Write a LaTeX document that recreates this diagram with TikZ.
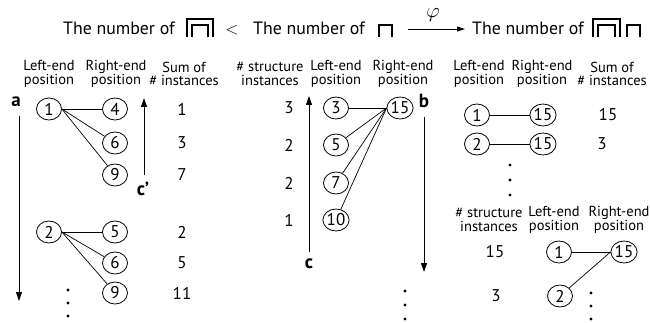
\documentclass[tikz,border=0pt]{standalone}
\usepackage{fontspec}
\setmainfont{PT Sans}
\usetikzlibrary{arrows.meta,shapes.geometric}
\begin{document}
\begin{tikzpicture}[x=1pt,y=-1pt,
  hdr/.style={align=center, inner sep=0pt, font=\fontsize{14.5}{13.5}\selectfont},
  num/.style={ellipse, draw, line width=0.8pt, minimum width=25pt, minimum height=22pt, inner sep=0pt, font=\fontsize{17}{17}\selectfont},
  val/.style={inner sep=0pt, font=\fontsize{17}{17}\selectfont},
  lbl/.style={inner sep=0pt, font=\fontsize{19}{19}\selectfont\bfseries},
  edge/.style={line width=0.7pt},
  dir/.style={line width=0.9pt, -{Triangle[length=9pt,width=6pt]}},
  ttl/.style={inner sep=0pt, font=\fontsize{17.8}{17.8}\selectfont},
  sym/.style={line width=1.4pt}
]
\useasboundingbox (0,0) rectangle (650,323);

% ---------- title ----------
\node[ttl, anchor=base east] (t1) at (175,35) {The number of};
\draw[sym] (187,37) -- (187,19) -- (213,19) -- (213,37);
\draw[sym] (192,37) -- (192,25) -- (208,25) -- (208,37);
\node[ttl, anchor=base] (lt) at (232,35) {$<$};
\node[ttl, anchor=base west] (t2) at (253,35) {The number of};
\draw[sym] (379,37) -- (379,25) -- (392,25) -- (392,37);
\coordinate (phs) at (408,29);
\coordinate (phe) at (465,29);
\draw[line width=0.9pt, -{Triangle[length=8pt,width=5pt]}] (phs) -- (phe);
\node[inner sep=0pt, font=\fontsize{21}{21}\selectfont] (phi) at (433,15) {$\varphi$};
\node[ttl, anchor=base west] (t3) at (472,35) {The number of};
\draw[sym] (593,37) -- (593,19) -- (620,19) -- (620,37);
\draw[sym] (598,37) -- (598,25) -- (615,25) -- (615,37);
\draw[sym] (627,37) -- (627,25) -- (640,25) -- (640,37);

% ---------- left panel ----------
\node[hdr] (h1) at (49,74) {Left-end\\position};
\node[hdr] (h2) at (116,74) {Right-end\\position};
\node[hdr] (h3) at (184,74) {Sum of\\\# instances};

\node[lbl] (la) at (16,102) {a};
\coordinate (as) at (19,116);
\coordinate (ae) at (19,301);
\draw[dir] (as) -- (ae);

\node[num] (n1) at (49,109) {1};
\node[num] (n4) at (115,109) {4};
\node[num] (n6a) at (115,143) {6};
\node[num] (n9a) at (115,175) {9};
\draw[edge] (n1.east) -- (n4.west);
\draw[edge] (n1.east) -- (n6a);
\draw[edge] (n1.east) -- (n9a);
\node[val] (v1) at (182,109) {1};
\node[val] (v3) at (182,143) {3};
\node[val] (v7) at (182,175) {7};

\coordinate (cps) at (144,175);
\coordinate (cpe) at (144,98);
\draw[dir] (cps) -- (cpe);
\node[lbl] (lcp) at (143,189) {c’};

\node[num] (n2) at (49,232) {2};
\node[num] (n5) at (115,232) {5};
\node[num] (n6b) at (115,263) {6};
\node[num] (n9b) at (115,293) {9};
\draw[edge] (n2.east) -- (n5.west);
\draw[edge] (n2.east) -- (n6b);
\draw[edge] (n2.east) -- (n9b);
\node[val] (v2) at (182,232) {2};
\node[val] (v5) at (182,263) {5};
\node[val] (v11) at (182,293) {11};
\foreach \y in {290,303,316} \fill (68,\y) circle (1.7pt);

% ---------- middle panel ----------
\node[hdr] (m1) at (270,74) {\# structure\\instances};
\node[hdr] (m2) at (336,74) {Left-end\\position};
\node[hdr] (m3) at (403,74) {Right-end\\position};

\node[num] (m3n) at (336,108) {3};
\node[num] (m15) at (400,108) {15};
\node[num] (m5n) at (336,145) {5};
\node[num] (m7n) at (336,183) {7};
\node[num] (m10n) at (336,220) {10};
\draw[edge] (m3n.east) -- (m15.west);
\draw[edge] (m5n) -- (m15.west);
\draw[edge] (m7n) -- (m15.west);
\draw[edge] (m10n) -- (m15.west);
\node[val] (w3) at (289,108) {3};
\node[val] (w2a) at (289,145) {2};
\node[val] (w2b) at (289,183) {2};
\node[val] (w1) at (289,220) {1};

\coordinate (cs) at (309,252);
\coordinate (ce) at (309,96);
\draw[dir] (cs) -- (ce);
\node[lbl] (lc) at (309,264) {c};

\node[lbl] (lb) at (424,101) {b};
\coordinate (bs) at (424,117);
\coordinate (be) at (424,272);
\draw[dir] (bs) -- (be);
\foreach \y in {291,305,319} \fill (405,\y) circle (1.7pt);

% ---------- right panel ----------
\node[hdr] (r1h) at (479,74) {Left-end\\position};
\node[hdr] (r2h) at (542,74) {Right-end\\position};
\node[hdr] (r3h) at (612,74) {Sum of\\\# instances};

\node[num] (r1) at (477,115) {1};
\node[num] (r15a) at (543,115) {15};
\node[num] (r2) at (477,144) {2};
\node[num] (r15b) at (543,144) {15};
\draw[edge] (r1.east) -- (r15a.west);
\draw[edge] (r2.east) -- (r15b.west);
\node[val] (x15) at (608,115) {15};
\node[val] (x3) at (602,144) {3};
\foreach \y in {165,180,195} \fill (510,\y) circle (1.7pt);

\node[hdr] (s1h) at (489,220) {\# structure\\instances};
\node[hdr] (s2h) at (554,220) {Left-end\\position};
\node[hdr] (s3h) at (619,220) {Right-end\\position};

\node[num] (s1) at (559,252) {1};
\node[num] (s15) at (624,252) {15};
\node[num] (s2) at (560,296) {2};
\draw[edge] (s1.east) -- (s15.west);
\draw[edge] (s2) -- (s15.west);
\node[val] (y15) at (495,252) {15};
\node[val] (y3) at (496,296) {3};
\foreach \y in {293,306,319} \fill (591,\y) circle (1.7pt);
\end{tikzpicture}
\end{document}
